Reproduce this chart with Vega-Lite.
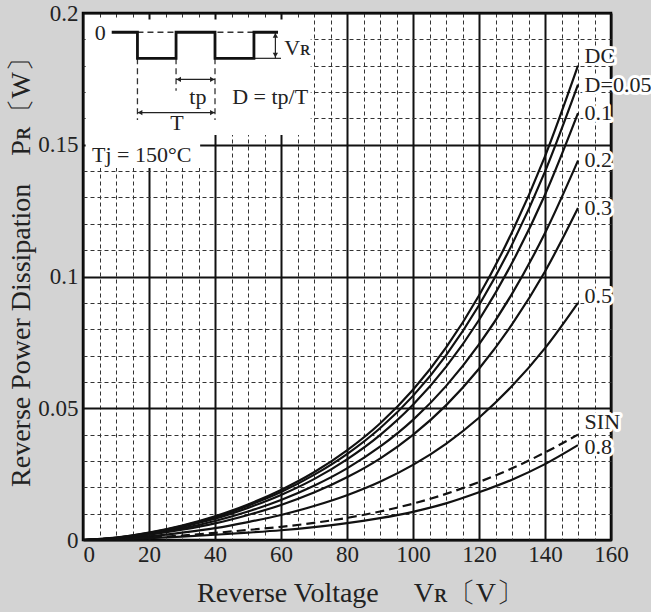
{
  "$schema": "https://vega.github.io/schema/vega-lite/v6.json",
  "width": 528,
  "height": 527,
  "autosize": {"type": "none"},
  "padding": {"left": 83, "top": 13, "right": 40, "bottom": 72},
  "background": "#d3d3d3",
  "config": {
    "view": {"fill": "white", "stroke": "#000", "strokeWidth": 2.5},
    "font": "Liberation Serif"
  },
  "datasets": {
    "curves": [
      {"V":0,"P":0,"s":"DC"},{"V":10,"P":0.0009,"s":"DC"},{"V":20,"P":0.0028,"s":"DC"},{"V":30,"P":0.0055,"s":"DC"},{"V":40,"P":0.009,"s":"DC"},{"V":50,"P":0.0135,"s":"DC"},{"V":60,"P":0.019,"s":"DC"},{"V":70,"P":0.0257,"s":"DC"},{"V":80,"P":0.034,"s":"DC"},{"V":90,"P":0.0442,"s":"DC"},{"V":100,"P":0.057,"s":"DC"},{"V":110,"P":0.073,"s":"DC"},{"V":120,"P":0.0928,"s":"DC"},{"V":130,"P":0.1168,"s":"DC"},{"V":140,"P":0.1456,"s":"DC"},{"V":150,"P":0.18,"s":"DC"},
      {"V":0,"P":0,"s":"0.05"},{"V":10,"P":0.00086,"s":"0.05"},{"V":20,"P":0.0027,"s":"0.05"},{"V":30,"P":0.0053,"s":"0.05"},{"V":40,"P":0.0086,"s":"0.05"},{"V":50,"P":0.013,"s":"0.05"},{"V":60,"P":0.0182,"s":"0.05"},{"V":70,"P":0.0247,"s":"0.05"},{"V":80,"P":0.0326,"s":"0.05"},{"V":90,"P":0.0424,"s":"0.05"},{"V":100,"P":0.0547,"s":"0.05"},{"V":110,"P":0.0701,"s":"0.05"},{"V":120,"P":0.0891,"s":"0.05"},{"V":130,"P":0.1121,"s":"0.05"},{"V":140,"P":0.1398,"s":"0.05"},{"V":150,"P":0.1728,"s":"0.05"},
      {"V":0,"P":0,"s":"0.1"},{"V":10,"P":0.0008,"s":"0.1"},{"V":20,"P":0.0025,"s":"0.1"},{"V":30,"P":0.005,"s":"0.1"},{"V":40,"P":0.0081,"s":"0.1"},{"V":50,"P":0.0122,"s":"0.1"},{"V":60,"P":0.0171,"s":"0.1"},{"V":70,"P":0.0231,"s":"0.1"},{"V":80,"P":0.0306,"s":"0.1"},{"V":90,"P":0.0398,"s":"0.1"},{"V":100,"P":0.0513,"s":"0.1"},{"V":110,"P":0.0657,"s":"0.1"},{"V":120,"P":0.0835,"s":"0.1"},{"V":130,"P":0.1051,"s":"0.1"},{"V":140,"P":0.131,"s":"0.1"},{"V":150,"P":0.162,"s":"0.1"},
      {"V":0,"P":0,"s":"0.2"},{"V":10,"P":0.0007,"s":"0.2"},{"V":20,"P":0.0022,"s":"0.2"},{"V":30,"P":0.0044,"s":"0.2"},{"V":40,"P":0.0072,"s":"0.2"},{"V":50,"P":0.0108,"s":"0.2"},{"V":60,"P":0.0152,"s":"0.2"},{"V":70,"P":0.0206,"s":"0.2"},{"V":80,"P":0.0272,"s":"0.2"},{"V":90,"P":0.0354,"s":"0.2"},{"V":100,"P":0.0456,"s":"0.2"},{"V":110,"P":0.0584,"s":"0.2"},{"V":120,"P":0.0742,"s":"0.2"},{"V":130,"P":0.0934,"s":"0.2"},{"V":140,"P":0.1165,"s":"0.2"},{"V":150,"P":0.144,"s":"0.2"},
      {"V":0,"P":0,"s":"0.3"},{"V":10,"P":0.0006,"s":"0.3"},{"V":20,"P":0.002,"s":"0.3"},{"V":30,"P":0.0039,"s":"0.3"},{"V":40,"P":0.0063,"s":"0.3"},{"V":50,"P":0.0095,"s":"0.3"},{"V":60,"P":0.0133,"s":"0.3"},{"V":70,"P":0.018,"s":"0.3"},{"V":80,"P":0.0238,"s":"0.3"},{"V":90,"P":0.0309,"s":"0.3"},{"V":100,"P":0.0399,"s":"0.3"},{"V":110,"P":0.0511,"s":"0.3"},{"V":120,"P":0.065,"s":"0.3"},{"V":130,"P":0.0818,"s":"0.3"},{"V":140,"P":0.1019,"s":"0.3"},{"V":150,"P":0.126,"s":"0.3"},
      {"V":0,"P":0,"s":"0.5"},{"V":10,"P":0.00045,"s":"0.5"},{"V":20,"P":0.0014,"s":"0.5"},{"V":30,"P":0.0028,"s":"0.5"},{"V":40,"P":0.0045,"s":"0.5"},{"V":50,"P":0.0068,"s":"0.5"},{"V":60,"P":0.0095,"s":"0.5"},{"V":70,"P":0.0129,"s":"0.5"},{"V":80,"P":0.017,"s":"0.5"},{"V":90,"P":0.0221,"s":"0.5"},{"V":100,"P":0.0285,"s":"0.5"},{"V":110,"P":0.0365,"s":"0.5"},{"V":120,"P":0.0464,"s":"0.5"},{"V":130,"P":0.0584,"s":"0.5"},{"V":140,"P":0.0728,"s":"0.5"},{"V":150,"P":0.09,"s":"0.5"},
      {"V":0,"P":0,"s":"SIN"},{"V":10,"P":0.0003,"s":"SIN"},{"V":20,"P":0.0009,"s":"SIN"},{"V":30,"P":0.0017,"s":"SIN"},{"V":40,"P":0.0027,"s":"SIN"},{"V":50,"P":0.0038,"s":"SIN"},{"V":60,"P":0.005,"s":"SIN"},{"V":70,"P":0.0065,"s":"SIN"},{"V":80,"P":0.0084,"s":"SIN"},{"V":90,"P":0.0108,"s":"SIN"},{"V":100,"P":0.0138,"s":"SIN"},{"V":110,"P":0.0175,"s":"SIN"},{"V":120,"P":0.022,"s":"SIN"},{"V":130,"P":0.0272,"s":"SIN"},{"V":140,"P":0.0332,"s":"SIN"},{"V":150,"P":0.04,"s":"SIN"},
      {"V":0,"P":0,"s":"0.8"},{"V":10,"P":0.0002,"s":"0.8"},{"V":20,"P":0.0007,"s":"0.8"},{"V":30,"P":0.0013,"s":"0.8"},{"V":40,"P":0.002,"s":"0.8"},{"V":50,"P":0.0028,"s":"0.8"},{"V":60,"P":0.0037,"s":"0.8"},{"V":70,"P":0.0049,"s":"0.8"},{"V":80,"P":0.0064,"s":"0.8"},{"V":90,"P":0.0083,"s":"0.8"},{"V":100,"P":0.0107,"s":"0.8"},{"V":110,"P":0.0139,"s":"0.8"},{"V":120,"P":0.0181,"s":"0.8"},{"V":130,"P":0.0229,"s":"0.8"},{"V":140,"P":0.0288,"s":"0.8"},{"V":150,"P":0.036,"s":"0.8"}
    ],
    "labels": [
      {"t":"DC","V":152,"P":0.1835},
      {"t":"D=0.05","V":152,"P":0.1727},
      {"t":"0.1","V":152,"P":0.162},
      {"t":"0.2","V":152,"P":0.1442},
      {"t":"0.3","V":152,"P":0.126},
      {"t":"0.5","V":152,"P":0.0925},
      {"t":"SIN","V":152,"P":0.0448},
      {"t":"0.8","V":152,"P":0.0353}
    ],
    "boxes": [
      {"V":0.8,"V2":69,"P":0.1537,"P2":0.1975},
      {"V":0.8,"V2":35.5,"P":0.1412,"P2":0.1537}
    ],
    "wave": [
      {"V":8.7,"P":0.1927,"o":1},{"V":16.5,"P":0.1927,"o":2},{"V":16.5,"P":0.1828,"o":3},{"V":28.2,"P":0.1828,"o":4},{"V":28.2,"P":0.1927,"o":5},{"V":40,"P":0.1927,"o":6},{"V":40,"P":0.1828,"o":7},{"V":51.8,"P":0.1828,"o":8},{"V":51.8,"P":0.1927,"o":9},{"V":59.1,"P":0.1927,"o":10}
    ],
    "dashed": [
      {"V":16.5,"V2":51.8,"P":0.1927,"P2":0.1927},
      {"V":16.5,"V2":16.5,"P":0.1828,"P2":0.1594},
      {"V":28.2,"V2":28.2,"P":0.1828,"P2":0.1705},
      {"V":40,"V2":40,"P":0.1828,"P2":0.1594}
    ],
    "thin": [
      {"V":51.8,"V2":60,"P":0.1828,"P2":0.1828},
      {"V":28.2,"V2":40,"P":0.1748,"P2":0.1748},
      {"V":16.5,"V2":40,"P":0.1622,"P2":0.1622},
      {"V":58.3,"V2":58.3,"P":0.1927,"P2":0.1828}
    ],
    "heads": [
      {"V":29.0,"P":0.1748,"d":"l"},{"V":39.2,"P":0.1748,"d":"r"},
      {"V":17.3,"P":0.1622,"d":"l"},{"V":39.2,"P":0.1622,"d":"r"},
      {"V":58.3,"P":0.1915,"d":"u"},{"V":58.3,"P":0.1840,"d":"d"}
    ],
    "insetText": [
      {"t":"0","V":5.2,"P":0.1924},
      {"t":"Vʀ","V":65,"P":0.1868},
      {"t":"tp","V":34.8,"P":0.1683},
      {"t":"T","V":28.5,"P":0.1583},
      {"t":"D = tp/T","V":56.7,"P":0.1683},
      {"t":"Tj = 150°C","V":17.8,"P":0.1462}
    ]
  },
  "encoding": {
    "x": {
      "field": "V", "type": "quantitative",
      "scale": {"domain": [0, 160], "nice": false},
      "axis": {
        "values": [0,5,10,15,20,25,30,35,40,45,50,55,60,65,70,75,80,85,90,95,100,105,110,115,120,125,130,135,140,145,150,155,160],
        "title": "Reverse Voltage\u00a0\u00a0\u00a0\u00a0\u00a0Vʀ〔V〕",
        "domain": false, "ticks": false, "grid": true,
        "gridColor": {"condition": {"test": "datum.value % 20 === 0", "value": "#111"}, "value": "#333"},
        "gridWidth": {"condition": {"test": "datum.value % 20 === 0", "value": 2}, "value": 1},
        "gridDash": {"condition": {"test": "datum.value % 20 === 0", "value": []}, "value": [4, 3]},
        "labelExpr": "datum.value % 20 === 0 ? datum.label : ''",
        "labelOverlap": false, "labelFlush": false, "labelBound": false,
        "labelFont": "Liberation Serif", "labelFontSize": 23, "labelColor": "#222", "labelPadding": 3,
        "labelAlign": {"condition": {"test": "datum.value === 0", "value": "left"}, "value": "center"},
        "titleFont": "Liberation Serif", "titleFontSize": 28, "titleFontWeight": "normal", "titleColor": "#222",
        "titleX": 277, "titleY": 53, "titleBaseline": "middle", "titleAlign": "center"
      }
    },
    "y": {
      "field": "P", "type": "quantitative",
      "scale": {"domain": [0, 0.2], "nice": false},
      "axis": {
        "values": [0,0.01,0.02,0.03,0.04,0.05,0.06,0.07,0.08,0.09,0.1,0.11,0.12,0.13,0.14,0.15,0.16,0.17,0.18,0.19,0.2],
        "title": "Reverse Power Dissipation\u00a0\u00a0\u00a0\u00a0Pʀ〔W〕",
        "domain": false, "ticks": false, "grid": true,
        "gridColor": {"condition": {"test": "round(datum.value*100) % 5 === 0", "value": "#111"}, "value": "#333"},
        "gridWidth": {"condition": {"test": "round(datum.value*100) % 5 === 0", "value": 2}, "value": 1},
        "gridDash": {"condition": {"test": "round(datum.value*100) % 5 === 0", "value": []}, "value": [4, 3]},
        "labelExpr": "round(datum.value*100) % 5 === 0 ? toString(round(datum.value*100)/100) : ''",
        "labelOverlap": false, "labelFlush": false, "labelBound": false,
        "labelFont": "Liberation Serif", "labelFontSize": 23, "labelColor": "#222", "labelPadding": 5,
        "titleFont": "Liberation Serif", "titleFontSize": 28, "titleFontWeight": "normal", "titleColor": "#222",
        "titleX": -62, "titleY": 252, "titleBaseline": "middle", "titleAlign": "center", "titleAngle": 270
      }
    }
  },
  "layer": [
    {
      "data": {"name": "curves"},
      "transform": [{"filter": "datum.s !== 'SIN'"}],
      "mark": {"type": "line", "interpolate": "monotone", "stroke": "#111", "strokeWidth": 2.2},
      "encoding": {"detail": {"field": "s"}}
    },
    {
      "data": {"name": "curves"},
      "transform": [{"filter": "datum.s === 'SIN'"}],
      "mark": {"type": "line", "interpolate": "monotone", "stroke": "#111", "strokeWidth": 2.2, "strokeDash": [9, 5]},
      "encoding": {}
    },
    {
      "data": {"name": "boxes"},
      "mark": {"type": "rect", "fill": "white"},
      "encoding": {"x2": {"field": "V2"}, "y2": {"field": "P2"}}
    },
    {
      "data": {"name": "dashed"},
      "mark": {"type": "rule", "stroke": "#333", "strokeWidth": 1.3, "strokeDash": [6, 4]},
      "encoding": {"x2": {"field": "V2"}, "y2": {"field": "P2"}}
    },
    {
      "data": {"name": "thin"},
      "mark": {"type": "rule", "stroke": "#222", "strokeWidth": 1.2},
      "encoding": {"x2": {"field": "V2"}, "y2": {"field": "P2"}}
    },
    {
      "data": {"name": "wave"},
      "mark": {"type": "line", "stroke": "#111", "strokeWidth": 2.8, "interpolate": "linear"},
      "encoding": {"order": {"field": "o", "type": "quantitative"}}
    },
    {
      "data": {"name": "heads"},
      "mark": {"type": "point", "filled": true, "fill": "#222", "stroke": null, "size": 28, "opacity": 1},
      "encoding": {
        "shape": {"field": "d", "type": "nominal", "scale": {"domain": ["l", "r", "u", "d"], "range": ["triangle-left", "triangle-right", "triangle-up", "triangle-down"]}, "legend": null}
      }
    },
    {
      "data": {"name": "insetText"},
      "mark": {"type": "text", "font": "Liberation Serif", "fontSize": 22, "fill": "#222", "align": "center", "baseline": "middle"},
      "encoding": {"text": {"field": "t"}}
    },
    {
      "data": {"name": "labels"},
      "mark": {"type": "text", "font": "Liberation Serif", "fontSize": 22, "fill": "white", "stroke": "white", "strokeWidth": 6, "strokeJoin": "round", "align": "left", "baseline": "middle"},
      "encoding": {"text": {"field": "t"}}
    },
    {
      "data": {"name": "labels"},
      "mark": {"type": "text", "font": "Liberation Serif", "fontSize": 22, "fill": "#222", "align": "left", "baseline": "middle"},
      "encoding": {"text": {"field": "t"}}
    }
  ]
}
